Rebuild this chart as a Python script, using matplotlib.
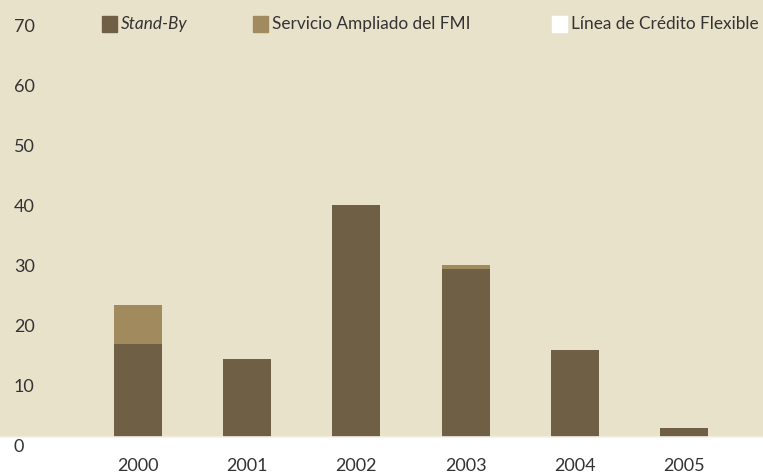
import matplotlib
matplotlib.use("Agg")
import matplotlib.pyplot as plt
import matplotlib.transforms as mtransforms
from matplotlib.patches import Rectangle
import numpy as np

years = ["2000", "2001", "2002", "2003", "2004", "2005"]
stand_by = [15.5, 13.0, 38.7, 28.0, 14.5, 1.5]
servicio_ampliado = [6.5, 0.0, 0.0, 0.7, 0.0, 0.0]
linea_credito = [0.0, 0.0, 0.0, 0.0, 0.0, 0.0]
y_ticks = [0, 10, 20, 30, 40, 50, 60, 70]

BG = "#e9e2cb"
DARK = "#6f5f45"
LIGHT = "#a08a5e"
FONT = "Lato"
FS = 13

plt.rcParams["font.family"] = [FONT, "DejaVu Sans"]

W, H = 763, 476
fig = plt.figure(figsize=(W / 100, H / 100), dpi=100, facecolor="white")
ax = fig.add_axes([0, 39 / H, 1, 437 / H])
ax.set_facecolor(BG)
for s in ax.spines.values():
    s.set_visible(False)

x = np.arange(len(years))
width = 0.44
sb = np.array(stand_by)
sa = np.array(servicio_ampliado)
fc = np.array(linea_credito)
ax.bar(x, sb, width, color=DARK, zorder=2)
ax.bar(x, sa, width, bottom=sb, color=LIGHT, zorder=2)
ax.bar(x, fc, width, bottom=sb + sa, color="white", zorder=2)

ax.set_xlim(-138 / 109.2, (W - 138) / 109.2)
ax.set_ylim(0, 437 / 6)
ax.axhline(0, color="#f4f0e2", lw=1.2, zorder=3, clip_on=False)

ax.set_xticks(x)
ax.set_xticklabels(years, fontsize=FS, color="#333333")
ax.tick_params(axis="x", length=0, pad=15)
ax.set_yticks([])

# y labels inside the plot, just below each value line
blend = mtransforms.blended_transform_factory(ax.transAxes, ax.transData)
lab_tr = mtransforms.offset_copy(blend, fig=fig, x=0, y=-14.5, units="dots")
for v in y_ticks:
    ax.text(14 / W, v, str(v), transform=lab_tr, ha="left", va="baseline",
            fontsize=FS, color="#333333", clip_on=False)

# legend across the top
legend_items = [
    ("Stand-By", DARK, 102, "italic"),
    ("Servicio Ampliado del FMI", LIGHT, 253, "normal"),
    ("Línea de Crédito Flexible", "white", 552, "normal"),
]
for label, color, px, style in legend_items:
    fig.patches.append(Rectangle((px / W, 1 - 32 / H), 15 / W, 16 / H,
                                 transform=fig.transFigure, color=color,
                                 figure=fig))
    fig.text((px + 19) / W, 1 - 24 / H, label, ha="left", va="center",
             fontsize=12.4, style=style, color="#333333")

fig.savefig("out.png", dpi=100, facecolor="white")
